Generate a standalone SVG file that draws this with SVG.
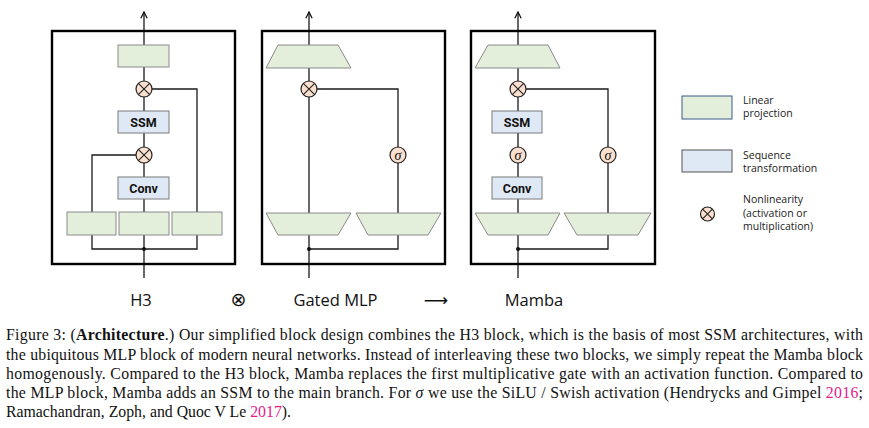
<svg xmlns="http://www.w3.org/2000/svg" width="869" height="428" viewBox="0 0 869 428">
<defs>
<style>
.panel{fill:none;stroke:#000;stroke-width:2.4}
.lin{fill:#e3efda;stroke:#8a8a8a;stroke-width:1}
.seq{fill:#dfe9f5;stroke:#7a7a7a;stroke-width:1}
.nl{fill:#fbe0cf;stroke:#222;stroke-width:1.2}
.x{stroke:#222;stroke-width:1.1;fill:none}
.wire{fill:none;stroke:#1a1a1a;stroke-width:1.3}
.lbl{font-family:Roboto,"Open Sans",sans-serif;font-weight:bold;font-size:12.5px;fill:#111;text-anchor:middle}
.sig{font-family:"Liberation Serif",serif;font-style:italic;font-size:14px;fill:#111;text-anchor:middle}
.leg{font-family:"Open Sans","Noto Sans",sans-serif;font-size:10.5px;fill:#222}
.title{font-family:"Open Sans","Noto Sans",sans-serif;font-size:16.5px;fill:#111}
.cap{font-family:"Liberation Serif",serif;font-size:15.8px;fill:#111}
.ref{fill:#e4198b}
</style>
<marker id="ah" viewBox="0 0 10 10" refX="9" refY="5" markerWidth="9" markerHeight="9" orient="auto" markerUnits="userSpaceOnUse">
<path d="M2 1.5 L9 5 L2 8.5" fill="none" stroke="#111" stroke-width="1.4"/>
</marker>
</defs>
<g id="connectors">
<path class="wire" d="M144 278 V12" marker-end="url(#ah)"/>
<path class="wire" d="M144 249 H92 V155 H144"/>
<path class="wire" d="M144 249 H197 V89 H144"/>
<path class="wire" d="M309 278 V12" marker-end="url(#ah)"/>
<path class="wire" d="M309 249 H398 V89 H309"/>
<path class="wire" d="M518 278 V12" marker-end="url(#ah)"/>
<path class="wire" d="M518 249 H608 V89 H518"/>
<circle cx="144" cy="249" r="2" fill="#111"/>
<circle cx="309" cy="249" r="2" fill="#111"/>
<circle cx="518" cy="249" r="2" fill="#111"/>
</g>
<g id="h3">
<rect class="panel" x="52" y="31" width="183" height="233"/>
<rect class="lin" x="118" y="45" width="51" height="22"/>
<g><circle class="nl" cx="144" cy="89" r="8"/><path class="x" d="M138.3 83.3 L149.7 94.7 M149.7 83.3 L138.3 94.7"/></g>
<rect class="seq" x="118" y="111" width="51" height="22"/>
<text class="lbl" x="143.5" y="126.5">SSM</text>
<g><circle class="nl" cx="144" cy="155" r="8"/><path class="x" d="M138.3 149.3 L149.7 160.7 M149.7 149.3 L138.3 160.7"/></g>
<rect class="seq" x="118" y="177" width="51" height="22"/>
<text class="lbl" x="143.5" y="192.5">Conv</text>
<rect class="lin" x="67" y="212" width="49" height="23"/>
<rect class="lin" x="119" y="212" width="50" height="23"/>
<rect class="lin" x="172" y="212" width="50" height="23"/>
</g>
<g id="gated-mlp">
<rect class="panel" x="262" y="31" width="183" height="233"/>
<polygon class="lin" points="278,45 338,45 351,68 266,68"/>
<g><circle class="nl" cx="309" cy="89" r="8"/><path class="x" d="M303.3 83.3 L314.7 94.7 M314.7 83.3 L303.3 94.7"/></g>
<g><circle class="nl" cx="398" cy="155" r="8"/><text class="sig" x="398" y="159.5">σ</text></g>
<polygon class="lin" points="266,213 351,213 338,235 278,235"/>
<polygon class="lin" points="356,213 441,213 428,235 368,235"/>
</g>
<g id="mamba">
<rect class="panel" x="471" y="31" width="184" height="233"/>
<polygon class="lin" points="488,45 548,45 560,68 475,68"/>
<g><circle class="nl" cx="518" cy="89" r="8"/><path class="x" d="M512.3 83.3 L523.7 94.7 M523.7 83.3 L512.3 94.7"/></g>
<rect class="seq" x="492" y="111" width="50" height="22"/>
<text class="lbl" x="517" y="126.5">SSM</text>
<g><circle class="nl" cx="518" cy="155" r="8"/><text class="sig" x="518" y="159.5">σ</text></g>
<rect class="seq" x="492" y="177" width="50" height="22"/>
<text class="lbl" x="517" y="192.5">Conv</text>
<g><circle class="nl" cx="608" cy="155" r="8"/><text class="sig" x="608" y="159.5">σ</text></g>
<polygon class="lin" points="475,213 560,213 548,235 488,235"/>
<polygon class="lin" points="564,213 651,213 638,235 577,235"/>
</g>
<g id="legend">
<rect x="682" y="96" width="50" height="23" fill="#e3efda" stroke="#3d5a8c" stroke-width="1"/>
<text class="leg" x="743" y="103.5">Linear</text>
<text class="leg" x="743" y="116.5">projection</text>
<rect x="682" y="150" width="50" height="22" fill="#dfe9f5" stroke="#555" stroke-width="1"/>
<text class="leg" x="743" y="159">Sequence</text>
<text class="leg" x="743" y="172">transformation</text>
<g><circle class="nl" cx="707.5" cy="214" r="7"/><path class="x" d="M702.6 209.1 L712.4 218.9 M712.4 209.1 L702.6 218.9"/></g>
<text class="leg" x="743" y="203">Nonlinearity</text>
<text class="leg" x="743" y="216.5">(activation or</text>
<text class="leg" x="743" y="229.5">multiplication)</text>
</g>
<g id="titles">
<text class="title" x="141" y="306" text-anchor="middle">H3</text>
<text x="238.5" y="306" text-anchor="middle" font-family="DejaVu Sans,sans-serif" font-size="19" fill="#111">⊗</text>
<text class="title" x="335.5" y="306" text-anchor="middle">Gated MLP</text>
<text x="436" y="306" text-anchor="middle" font-family="DejaVu Sans,sans-serif" font-size="17" fill="#111">⟶</text>
<text class="title" x="534" y="306" text-anchor="middle">Mamba</text>
</g>
<g id="caption" class="cap">
<text x="6" y="340" textLength="857" lengthAdjust="spacing">Figure 3: (<tspan font-weight="bold">Architecture</tspan>.) Our simplified block design combines the H3 block, which is the basis of most SSM architectures, with</text>
<text x="6" y="359.5" textLength="857" lengthAdjust="spacing">the ubiquitous MLP block of modern neural networks. Instead of interleaving these two blocks, we simply repeat the Mamba block</text>
<text x="6" y="378.5" textLength="857" lengthAdjust="spacing">homogenously. Compared to the H3 block, Mamba replaces the first multiplicative gate with an activation function. Compared to</text>
<text x="6" y="397.5" textLength="857" lengthAdjust="spacing">the MLP block, Mamba adds an SSM to the main branch. For <tspan font-style="italic">σ</tspan> we use the SiLU / Swish activation (Hendrycks and Gimpel <tspan class="ref">2016</tspan>;</text>
<text x="6" y="416.5">Ramachandran, Zoph, and Quoc V Le <tspan class="ref">2017</tspan>).</text>
</g>
</svg>
